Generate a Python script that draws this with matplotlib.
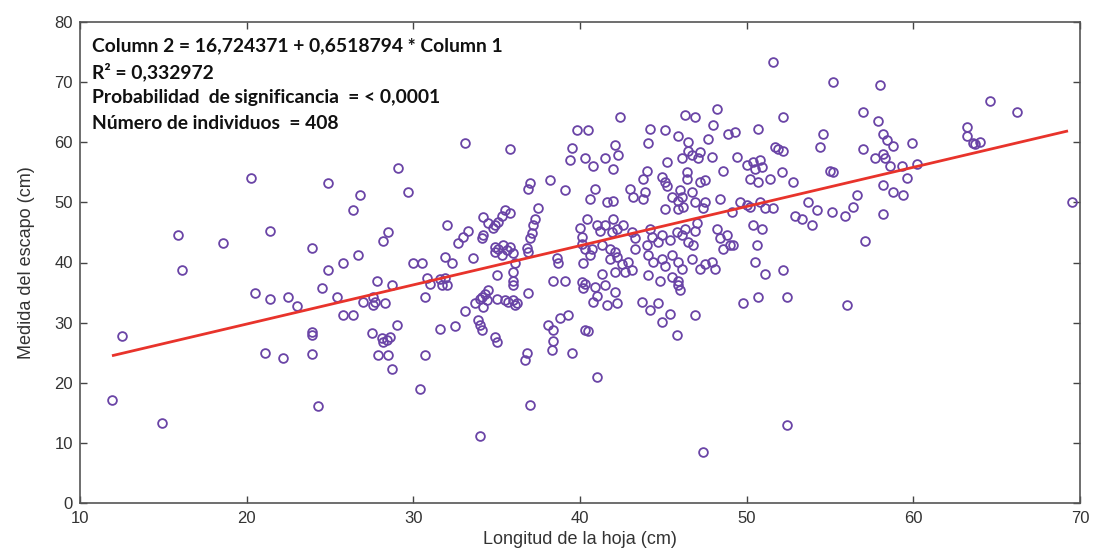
import matplotlib
matplotlib.use("Agg")
import matplotlib.pyplot as plt
from matplotlib import font_manager

# ---- data ----
longitud = [
 11.9,12.5,14.9,15.9,16.1,18.55,20.24,20.5,21.1,21.4,21.4,22.2,22.5,23.0,23.9,23.9,23.9,23.9,24.3,24.5,24.9,24.9,25.4,
 25.8,25.8,26.4,26.4,26.7,26.8,27.0,27.6,27.7,27.6,28.3,27.5,27.8,28.7,28.1,28.4,28.6,28.2,
 27.9,28.5,28.7,29.0,28.2,28.5,29.1,29.7,30.0,30.5,30.4,30.7,30.7,30.8,31.0,31.6,31.9,32.0,31.7,31.6,32.5,31.9,32.3,32.0,32.7,33.0,33.3,33.1,33.1,33.6,
 33.7,34.0,34.3,34.4,34.2,34.5,34.1,33.9,34.0,34.1,
 34.2,34.5,34.8,34.9,34.2,34.1,35.1,
 34.9,35.1,35.4,35.6,35.8,36.0,35.3,34.9,
 35.0,35.5,35.8,35.3,35.8,
 35.0,35.5,35.7,36.0,36.1,36.2,
 34.9,35.0,36.0,36.0,36.0,36.1,36.9,36.8,36.7,37.0,34.0,36.8,36.9,37.0,36.9,37.5,37.3,37.2,37.1,37.0,38.2,38.4,39.1,38.6,38.7,38.1,38.4,38.4,38.3,38.8,39.3,39.5,39.1,39.5,39.4,39.8,40.0,40.1,40.2,40.1,40.2,40.3,
 51.6,55.2,48.2,46.3,46.9,42.4,52.2,40.5,44.2,45.1,45.9,46.5,47.7,48.0,48.9,49.3,50.7,54.6,54.4,44.1,42.1,42.3,40.3,40.8,41.5,42.0,45.2,46.1,46.7,47.2,47.1,47.9,46.5,48.6,49.4,50.0,
 50.4,50.8,50.5,50.9,50.2,50.7,
 51.7,51.9,52.2,52.1,51.4,52.8,55.0,55.2,
 44.0,43.8,44.9,45.1,45.2,46.4,46.4,47.2,47.5,40.9,40.6,41.6,42.0,43.0,43.2,43.9,43.8,45.1,45.5,
 46.0,45.9,46.1,46.2,45.9,
 46.7,46.9,47.4,47.5,48.4,
 49.1,49.6,50.0,50.2,
 50.8,51.1,51.6,52.9,53.3,53.7,54.2,53.9,55.1,
 40.4,41.0,41.2,41.5,42.0,41.9,42.2,42.6,43.1,43.3,
 44.2,44.3,44.7,44.9,45.4,45.8,46.1,46.3,46.5,46.8,47.0,46.9,
 48.2,48.4,48.8,49.0,48.6,49.2,50.4,50.9,50.6,
 52.2,50.5,
 41.3,41.8,42.1,41.8,42.2,42.5,42.9,43.1,42.7,43.3,44.0,
 44.1,44.4,44.9,45.1,45.5,45.9,46.1,46.7,47.2,47.5,47.9,48.1,
 40.1,40.3,40.7,40.6,
 41.3,42.1,44.1,44.8,45.5,45.9,51.1,
 40.3,40.9,41.5,41.0,40.8,41.6,42.1,42.2,
 43.7,44.2,44.7,45.4,44.9,45.8,46.0,45.9,
 46.9,49.8,50.7,52.4,40.5,41.0,52.4,47.4,
 58.0,64.6,66.2,57.0,57.9,63.2,63.2,63.7,64.0,63.6,58.2,58.4,58.8,59.9,57.0,57.7,58.2,58.3,58.6,59.3,60.2,59.6,58.2,58.8,59.4,56.6,56.4,55.9,58.2,57.1,69.5,56.0,
]
escapo = [
 17.1,27.7,13.3,44.5,38.7,43.2,54.0,35.0,24.9,45.3,34.0,24.1,34.2,32.7,42.4,28.5,28.0,24.7,16.1,35.7,53.2,38.8,34.2,
 40.0,31.2,31.2,48.8,41.2,51.3,33.5,34.2,33.4,32.9,33.2,28.2,37.0,36.2,27.4,27.1,27.6,26.8,
 24.6,24.6,22.3,29.6,43.5,45.0,55.8,51.8,39.9,39.9,18.9,24.6,34.2,37.5,36.5,37.3,37.5,36.2,36.3,28.9,29.4,40.9,40.0,46.3,43.2,44.2,45.3,31.9,59.8,40.7,
 33.3,34.0,34.8,33.7,32.6,35.4,34.3,30.4,29.6,28.7,
 47.5,46.5,45.7,46.2,44.5,44.0,46.7,
 42.6,42.3,42.9,42.0,42.6,41.5,41.2,41.7,
 37.9,48.7,48.3,47.8,58.8,
 34.0,33.7,33.4,33.7,32.9,33.2,
 27.6,26.7,38.4,37.0,36.2,39.9,34.9,24.9,23.8,16.3,11.1,42.4,41.7,53.2,52.2,49.0,47.3,46.2,44.9,44.0,53.7,37.0,37.0,40.7,39.9,29.6,28.7,27.0,25.4,30.7,31.2,24.9,52.0,59.1,57.0,62.0,45.7,44.2,40.0,36.7,35.7,28.7,
 73.3,70.0,65.6,64.6,64.2,64.2,64.2,62.0,62.2,62.0,61.1,60.0,60.6,62.8,61.4,61.7,62.2,61.4,59.2,59.9,59.5,57.8,57.3,56.1,57.3,55.5,56.7,57.3,57.8,58.4,57.3,57.5,58.6,55.3,57.5,56.2,
 56.7,57.0,55.6,55.9,53.9,53.4,
 59.2,58.9,58.6,55.0,53.9,53.4,55.3,55.0,
 55.3,53.9,54.2,53.4,52.8,55.0,53.9,53.4,53.7,52.3,50.6,50.1,50.3,52.3,50.9,51.7,50.6,48.9,50.9,
 52.0,50.3,50.9,49.2,48.9,
 51.7,50.0,49.0,50.1,50.6,
 48.4,50.1,49.5,49.2,
 50.1,49.0,49.0,47.8,47.3,50.1,48.7,46.2,48.4,
 47.3,46.2,45.3,46.2,47.3,45.1,45.6,46.2,45.1,44.0,
 45.6,44.2,43.4,44.5,43.7,45.1,44.5,45.6,43.4,42.9,46.5,45.3,
 45.6,44.0,44.5,42.9,42.3,42.9,46.2,45.6,42.9,
 38.7,40.1,
 42.9,42.3,41.7,40.6,40.9,39.8,40.1,38.7,38.4,42.3,42.9,
 41.2,40.1,40.6,39.5,41.2,40.1,39.0,40.6,39.0,39.8,40.1,39.0,
 43.1,42.3,42.3,41.2,
 38.1,38.4,37.9,37.0,37.6,37.0,38.1,
 36.5,35.9,36.2,34.5,33.4,32.9,35.1,33.2,
 33.4,32.1,33.2,31.5,30.1,27.9,35.4,36.2,
 31.2,33.3,34.3,34.3,28.6,21.0,13.0,8.4,
 69.5,66.9,65.0,65.0,63.6,62.5,61.1,59.7,60.0,59.9,61.4,60.3,59.4,59.9,58.8,57.4,58.1,57.3,56.1,56.1,56.4,54.0,52.9,51.7,51.3,51.2,49.2,47.8,48.1,43.5,50.1,32.9,
]
intercept = 16.724371
slope = 0.6518794
fit_x = [12.0, 69.2]
stats_lines = [
    "Column 2 = 16,724371 + 0,6518794 * Column 1",
    "R\u00b2 = 0,332972",
    "Probabilidad  de significancia  = < 0,0001",
    "N\u00famero de individuos  = 408",
]
xticks = [10, 20, 30, 40, 50, 60, 70]
yticks = [0, 10, 20, 30, 40, 50, 60, 70, 80]

n = min(len(longitud), len(escapo))
longitud = longitud[:n]
escapo = escapo[:n]

avail = {f.name for f in font_manager.fontManager.ttflist}
tick_family = "Liberation Sans Narrow" if "Liberation Sans Narrow" in avail else "Liberation Sans"

fig = plt.figure(figsize=(10.98, 5.54), dpi=100)
ax = fig.add_axes([80/1098, 1-503/554, 1000/1098, 481/554])

ax.plot(longitud, escapo, linestyle="none", marker="o", markersize=6.3,
        markerfacecolor="none", markeredgecolor="#6a44a6", markeredgewidth=1.3)
ax.plot(fit_x, [intercept + slope*v for v in fit_x], color="#e8332b", lw=2.0)

ax.set_xlim(10, 70)
ax.set_ylim(0, 80)
ax.set_xticks(xticks)
ax.set_yticks(yticks)
ax.tick_params(direction="in", top=True, right=True, length=5, width=1,
               colors="#444444", labelsize=12, labelcolor="#333333")
ax.tick_params(axis="x", pad=6)
ax.tick_params(axis="y", pad=5)
for lab in ax.get_xticklabels() + ax.get_yticklabels():
    lab.set_family(tick_family)
for s in ax.spines.values():
    s.set_color("#555555")
    s.set_linewidth(1.2)

ax.set_xlabel("Longitud de la hoja (cm)", family=tick_family, fontsize=13, color="#333333", labelpad=3)
ax.set_ylabel("Medida del escapo (cm)", family=tick_family, fontsize=13, color="#333333", labelpad=14)

for i, t in enumerate(stats_lines):
    ax.text(10.72, 76.1 - i*4.32, t, family=["Lato", "DejaVu Sans"], fontweight="bold",
            fontsize=13.9, color="#111111", va="center", ha="left")

fig.savefig("out.png", dpi=100)
